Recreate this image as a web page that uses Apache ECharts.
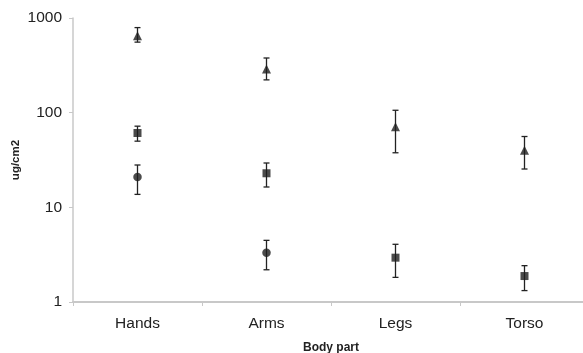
<!DOCTYPE html>
<html><head><meta charset="utf-8">
<script src="https://cdn.jsdelivr.net/npm/echarts@6/dist/echarts.min.js"></script>
<style>html,body{margin:0;padding:0;background:#fff}#c{width:583px;height:353px}</style>
</head><body><div id="c"></div>
<script>
const categories = ['Hands', 'Arms', 'Legs', 'Torso'];
const triMean = [650, 289, 71, 40];
const triLow  = [556, 222, 37.7, 25.4];
const triHigh = [792, 378, 106, 56];
const sqMean  = [61, 22.9, 2.94, 1.88];
const sqLow   = [50, 16.4, 1.82, 1.32];
const sqHigh  = [72, 29.4, 4.07, 2.42];
const ciMean  = [20.9, 3.32, null, null];
const ciLow   = [13.7, 2.19, null, null];
const ciHigh  = [28, 4.48, null, null];
const yTicks  = [1, 10, 100, 1000];

const chart = echarts.init(document.getElementById('c'));
const errData = [];
[[triLow, triHigh], [sqLow, sqHigh], [ciLow, ciHigh]].forEach(([lo, hi]) => {
  categories.forEach((c, i) => { if (lo[i] != null) errData.push([i, lo[i], hi[i]]); });
});
function renderErr(params, api) {
  const x = api.value(0);
  const p1 = api.coord([x, api.value(1)]);
  const p2 = api.coord([x, api.value(2)]);
  const w = 3;
  const st = {stroke: '#222', lineWidth: 1.3};
  return {type: 'group', children: [
    {type: 'line', shape: {x1: p1[0], y1: p1[1], x2: p2[0], y2: p2[1]}, style: st},
    {type: 'line', shape: {x1: p1[0]-w, y1: p1[1], x2: p1[0]+w, y2: p1[1]}, style: st},
    {type: 'line', shape: {x1: p2[0]-w, y1: p2[1], x2: p2[0]+w, y2: p2[1]}, style: st}
  ]};
}
const font = 'Liberation Sans, Arial, sans-serif';
chart.setOption({
  animation: false,
  grid: {left: 73, top: 18, width: 516, height: 284, outerBoundsMode: 'none', containLabel: false},
  xAxis: {
    type: 'category', data: categories,
    axisLine: {lineStyle: {color: '#c8c8c8', width: 2}},
    axisTick: {show: true, length: 4, lineStyle: {color: '#c8c8c8'}},
    axisLabel: {color: '#222', fontSize: 15.5, fontFamily: font, margin: 14},
    name: 'Body part', nameLocation: 'middle', nameGap: 40,
    nameTextStyle: {color: '#222', fontSize: 12, fontWeight: 'bold', fontFamily: font}
  },
  yAxis: {
    type: 'log', logBase: 10, min: 1, max: 1000,
    axisLine: {show: true, lineStyle: {color: '#c8c8c8', width: 1.5}},
    axisTick: {show: true, length: 4, lineStyle: {color: '#c8c8c8'}},
    splitLine: {show: false}, minorTick: {show: false},
    axisLabel: {color: '#222', fontSize: 15.5, fontFamily: font, margin: 11,
      formatter: v => yTicks.includes(Math.round(v)) ? String(Math.round(v)) : ''},
    name: 'ug/cm2', nameLocation: 'middle', nameGap: 51, nameRotate: 90, nameMoveOverlap: false,
    nameTextStyle: {color: '#222', fontSize: 11.5, fontWeight: 'bold', fontFamily: font}
  },
  series: [
    {type: 'custom', renderItem: renderErr, data: errData, z: 1, silent: true},
    {type: 'scatter', data: triMean, symbol: 'triangle', symbolSize: [9, 9], itemStyle: {color: '#1e1e1e'}, z: 3},
    {type: 'scatter', data: sqMean, symbol: 'rect', symbolSize: 8, itemStyle: {color: '#1e1e1e'}, z: 3},
    {type: 'scatter', data: ciMean, symbol: 'circle', symbolSize: 8.5, itemStyle: {color: '#1e1e1e'}, z: 3}
  ]
});
</script></body></html>
